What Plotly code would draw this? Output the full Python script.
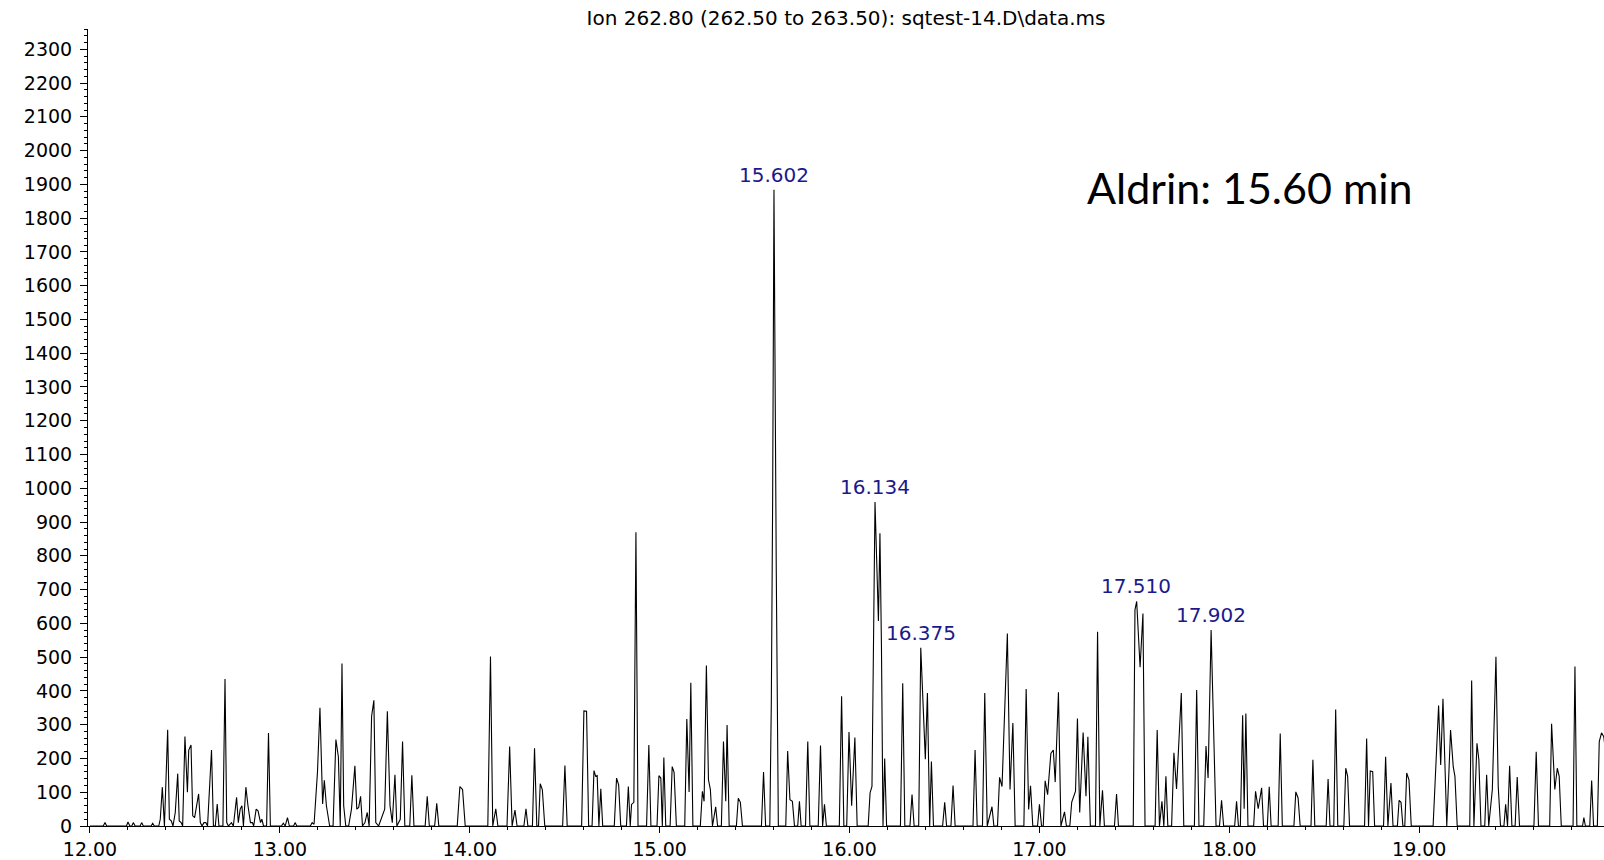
import plotly.graph_objects as go

# Chromatogram data (retention time in min, abundance)
retention_time = [
    12.000, 12.070, 12.079, 12.088, 12.192, 12.200, 12.210, 12.220, 12.228, 12.238,
    12.264, 12.272, 12.281, 12.322, 12.330, 12.339, 12.362, 12.370, 12.381, 12.392,
    12.409, 12.418, 12.428, 12.437, 12.449, 12.462, 12.470, 12.480, 12.488, 12.500,
    12.513, 12.520, 12.532, 12.541, 12.551, 12.572, 12.581, 12.590, 12.600, 12.610,
    12.619, 12.632, 12.640, 12.650, 12.660, 12.670, 12.679, 12.700, 12.711, 12.720,
    12.729, 12.745, 12.755, 12.772, 12.781, 12.791, 12.800, 12.808, 12.821, 12.832,
    12.845, 12.855, 12.862, 12.875, 12.885, 12.898, 12.905, 12.914, 12.930, 12.940,
    12.950, 13.008, 13.018, 13.028, 13.040, 13.050, 13.072, 13.080, 13.089, 13.160,
    13.170, 13.180, 13.198, 13.211, 13.225, 13.234, 13.245, 13.262, 13.280, 13.295,
    13.308, 13.318, 13.327, 13.336, 13.347, 13.362, 13.377, 13.395, 13.405, 13.415,
    13.425, 13.435, 13.448, 13.460, 13.470, 13.483, 13.495, 13.505, 13.520, 13.552,
    13.566, 13.580, 13.592, 13.606, 13.616, 13.634, 13.646, 13.658, 13.684, 13.695,
    13.706, 13.765, 13.776, 13.787, 13.815, 13.826, 13.837, 13.934, 13.948, 13.962,
    13.976, 14.095, 14.109, 14.121, 14.137, 14.148, 14.196, 14.210, 14.223, 14.238,
    14.249, 14.285, 14.296, 14.306, 14.330, 14.341, 14.353, 14.362, 14.371, 14.382,
    14.395, 14.489, 14.501, 14.513, 14.589, 14.601, 14.615, 14.626, 14.644, 14.654,
    14.663, 14.671, 14.680, 14.690, 14.700, 14.761, 14.773, 14.784, 14.795, 14.825,
    14.835, 14.845, 14.852, 14.864, 14.875, 14.886, 14.931, 14.943, 14.954, 14.986,
    14.996, 15.006, 15.014, 15.022, 15.032, 15.055, 15.066, 15.076, 15.088, 15.132,
    15.143, 15.155, 15.164, 15.175, 15.214, 15.225, 15.234, 15.246, 15.257, 15.267,
    15.278, 15.295, 15.305, 15.325, 15.336, 15.348, 15.355, 15.366, 15.404, 15.414,
    15.425, 15.436, 15.536, 15.547, 15.558, 15.580, 15.588, 15.595, 15.602, 15.614,
    15.625, 15.664, 15.674, 15.686, 15.699, 15.710, 15.727, 15.736, 15.745, 15.768,
    15.780, 15.791, 15.835, 15.847, 15.858, 15.868, 15.878, 15.946, 15.958, 15.970,
    15.985, 15.997, 16.011, 16.028, 16.040, 16.098, 16.108, 16.118, 16.134, 16.152,
    16.160, 16.168, 16.176, 16.185, 16.195, 16.268, 16.280, 16.291, 16.318, 16.329,
    16.340, 16.364, 16.375, 16.399, 16.410, 16.422, 16.431, 16.442, 16.490, 16.501,
    16.511, 16.534, 16.545, 16.556, 16.650, 16.661, 16.672, 16.700, 16.712, 16.725,
    16.750, 16.760, 16.779, 16.790, 16.803, 16.831, 16.845, 16.860, 16.872, 16.918,
    16.930, 16.943, 16.953, 16.965, 16.990, 17.000, 17.011, 17.020, 17.030, 17.043,
    17.060, 17.073, 17.083, 17.100, 17.113, 17.132, 17.142, 17.160, 17.170, 17.190,
    17.200, 17.212, 17.230, 17.245, 17.255, 17.268, 17.295, 17.306, 17.318, 17.332,
    17.342, 17.395, 17.406, 17.416, 17.494, 17.503, 17.512, 17.530, 17.545, 17.556,
    17.609, 17.620, 17.632, 17.645, 17.655, 17.666, 17.676, 17.696, 17.708, 17.722,
    17.747, 17.760, 17.816, 17.828, 17.840, 17.865, 17.877, 17.888, 17.904, 17.930,
    17.948, 17.959, 17.970, 18.028, 18.038, 18.048, 18.058, 18.070, 18.078, 18.087,
    18.098, 18.128, 18.138, 18.152, 18.170, 18.180, 18.200, 18.210, 18.220, 18.257,
    18.268, 18.279, 18.340, 18.350, 18.362, 18.373, 18.430, 18.440, 18.450, 18.510,
    18.520, 18.530, 18.550, 18.560, 18.571, 18.603, 18.613, 18.623, 18.633, 18.712,
    18.723, 18.733, 18.742, 18.755, 18.765, 18.812, 18.823, 18.835, 18.851, 18.862,
    18.885, 18.894, 18.904, 18.914, 18.924, 18.934, 18.946, 18.958, 19.073, 19.083,
    19.102, 19.113, 19.125, 19.145, 19.165, 19.179, 19.188, 19.200, 19.266, 19.276,
    19.288, 19.304, 19.314, 19.325, 19.345, 19.355, 19.366, 19.385, 19.404, 19.416,
    19.428, 19.446, 19.455, 19.465, 19.476, 19.488, 19.505, 19.516, 19.528, 19.604,
    19.616, 19.628, 19.687, 19.697, 19.714, 19.727, 19.737, 19.748, 19.810, 19.820,
    19.830, 19.860, 19.867, 19.875, 19.898, 19.908, 19.918, 19.938, 19.948, 19.960,
    19.972, 19.985,
]

abundance = [
    0, 0, 10, 0, 0, 12, 0, 0, 10, 0,
    0, 10, 0, 0, 8, 0, 0, 20, 115, 0,
    285, 20, 15, 0, 40, 155, 15, 10, 0, 265,
    100, 225, 240, 30, 25, 95, 10, 0, 10, 10,
    0, 160, 225, 0, 0, 65, 0, 0, 435, 10,
    0, 10, 0, 85, 10, 50, 60, 0, 115, 60,
    10, 10, 0, 50, 45, 10, 20, 0, 0, 275,
    0, 0, 8, 0, 25, 0, 0, 10, 0, 0,
    10, 5, 160, 350, 65, 135, 60, 0, 0, 256,
    205, 0, 481, 60, 0, 0, 50, 178, 50, 55,
    88, 0, 10, 40, 0, 325, 372, 10, 0, 50,
    340, 60, 10, 152, 0, 20, 250, 0, 0, 150,
    0, 0, 88, 0, 0, 67, 0, 0, 117, 108,
    0, 0, 502, 0, 51, 0, 0, 235, 0, 47,
    0, 0, 51, 0, 0, 230, 0, 0, 125, 108,
    0, 0, 179, 0, 0, 341, 340, 0, 0, 164,
    147, 149, 0, 110, 0, 0, 142, 122, 0, 0,
    117, 0, 64, 70, 870, 0, 0, 240, 0, 0,
    149, 142, 0, 203, 0, 0, 176, 159, 0, 0,
    317, 101, 424, 0, 0, 103, 73, 475, 137, 108,
    0, 57, 0, 0, 250, 73, 299, 0, 0, 82,
    70, 0, 0, 160, 0, 0, 370, 970, 1884, 760,
    0, 0, 222, 78, 73, 0, 0, 73, 0, 0,
    250, 0, 0, 238, 0, 64, 0, 0, 384, 0,
    0, 278, 60, 262, 0, 0, 98, 117, 959, 607,
    867, 530, 0, 200, 0, 0, 423, 0, 0, 93,
    0, 0, 528, 198, 394, 0, 191, 0, 0, 70,
    0, 0, 120, 0, 0, 225, 0, 0, 394, 0,
    57, 0, 0, 144, 117, 570, 108, 305, 0, 0,
    406, 49, 119, 0, 0, 64, 0, 0, 134, 93,
    215, 225, 130, 396, 0, 42, 0, 0, 71, 103,
    318, 40, 277, 88, 264, 0, 0, 575, 0, 106,
    0, 0, 95, 0, 0, 640, 665, 470, 629, 0,
    0, 284, 0, 73, 0, 147, 0, 0, 217, 110,
    394, 0, 0, 403, 0, 0, 237, 142, 580, 0,
    0, 76, 0, 0, 73, 0, 0, 328, 51, 333,
    0, 0, 103, 51, 113, 0, 0, 116, 0, 0,
    274, 0, 0, 101, 83, 0, 0, 196, 0, 0,
    139, 0, 0, 345, 0, 0, 171, 147, 0, 0,
    259, 0, 163, 161, 0, 0, 205, 0, 127, 0,
    0, 76, 70, 0, 0, 157, 137, 0, 0, 122,
    357, 181, 377, 0, 284, 176, 147, 0, 0, 431,
    0, 245, 196, 0, 0, 152, 0, 108, 501, 117,
    0, 0, 64, 0, 178, 0, 0, 145, 0, 0,
    220, 0, 0, 303, 108, 171, 147, 0, 0, 472,
    0, 0, 25, 0, 0, 135, 0, 0, 250, 276,
    264, 200,
]

# Labelled peaks
label_times = [15.602, 16.134, 16.375, 17.510, 17.902]
label_heights = [1884, 959, 528, 665, 580]
label_texts = ["15.602", "16.134", "16.375", "17.510", "17.902"]

title_text = "Ion 262.80 (262.50 to 263.50): sqtest-14.D\\data.ms"
note_text = "Aldrin: 15.60 min"
note_x, note_y = 18.11, 1890

y_ticks = list(range(0, 2400, 100))
x_ticks = [12, 13, 14, 15, 16, 17, 18, 19]

fig = go.Figure()
fig.add_trace(go.Scatter(
    x=retention_time, y=abundance, mode="lines",
    line=dict(color="black", width=1.1), hoverinfo="x+y", showlegend=False,
))

label_font = dict(family="DejaVu Sans", size=20, color="#1a1a8c")
for t, h, txt in zip(label_times, label_heights, label_texts):
    fig.add_annotation(x=t, y=h, text=txt, showarrow=False, xanchor="center",
                       yanchor="bottom", yshift=1, font=label_font)

fig.add_annotation(x=note_x, y=note_y, text=note_text, showarrow=False,
                   xanchor="center", yanchor="middle",
                   font=dict(family="Lato", size=43, color="black"))

tick_font = dict(family="DejaVu Sans", size=19, color="black")

fig.update_layout(
    width=1604, height=860,
    margin=dict(l=88, r=0, t=29, b=26),
    plot_bgcolor="white", paper_bgcolor="white",
    title=dict(text=title_text, x=0.5, xref="paper", xanchor="center",
               y=1 - 18 / 860, yref="container", yanchor="middle",
               font=dict(family="DejaVu Sans", size=20, color="black")),
    font=dict(family="DejaVu Sans", size=19, color="black"),
)

fig.update_xaxes(
    range=[11.9895, 19.973], tickvals=x_ticks, tickformat=".2f",
    showline=True, linecolor="black", linewidth=1, ticks="outside",
    ticklen=6, tickcolor="black", showgrid=False, zeroline=False,
    minor=dict(dtick=0.2, ticks="outside", ticklen=3, tickcolor="black", showgrid=False),
    tickfont=tick_font,
)
fig.update_yaxes(
    range=[0, 2360], tickvals=y_ticks,
    showline=True, linecolor="black", linewidth=1, ticks="outside",
    ticklen=7, tickcolor="black", showgrid=False, zeroline=False,
    minor=dict(dtick=20, ticks="outside", ticklen=3, tickcolor="black", showgrid=False),
    tickfont=tick_font,
    ticklabelstandoff=4,
)

fig.write_html("out.html")
